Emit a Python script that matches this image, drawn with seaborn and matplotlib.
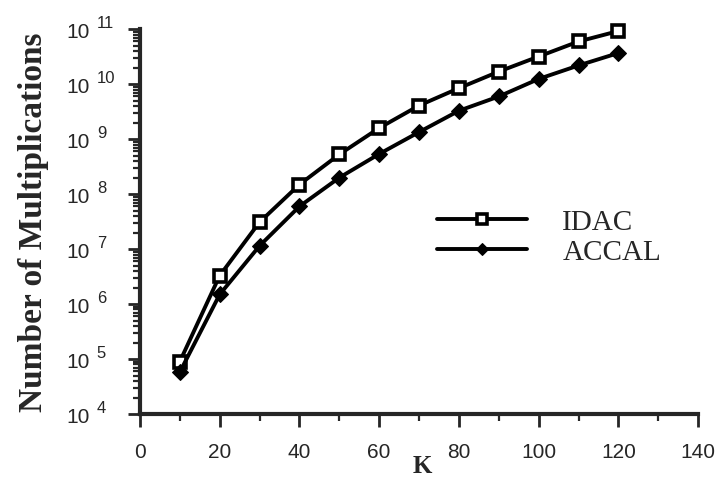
import numpy as np
import pandas as pd
import seaborn as sns
import matplotlib.pyplot as plt
import matplotlib.ticker as mtick

k_values = [10, 20, 30, 40, 50, 60, 70, 80, 90, 100, 110, 120]
idac = [9e4, 3.3e6, 3.1e7, 1.5e8, 5.3e8, 1.6e9, 4.1e9, 8.5e9, 1.7e10, 3.2e10, 6e10, 9.3e10]
accal = [5.8e4, 1.5e6, 1.15e7, 6e7, 2e8, 5.4e8, 1.35e9, 3.3e9, 6e9, 1.25e10, 2.2e10, 3.7e10]
x_ticks = [0, 20, 40, 60, 80, 100, 120, 140]
y_exponents = [4, 5, 6, 7, 8, 9, 10, 11]

sns.set_style("ticks")
plt.rcParams["font.family"] = ["Liberation Sans", "DejaVu Sans"]

df = pd.DataFrame({"K": k_values, "IDAC": idac, "ACCAL": accal})

fig = plt.figure(figsize=(7.25, 4.81), dpi=100)
ax = fig.add_axes([0.193, 0.137, 0.77, 0.80])

sns.lineplot(data=df, x="K", y="IDAC", ax=ax, color="black", linewidth=2.8,
             marker="s", markersize=9, markerfacecolor="white",
             markeredgecolor="black", markeredgewidth=2.6, label="IDAC", clip_on=False)
sns.lineplot(data=df, x="K", y="ACCAL", ax=ax, color="black", linewidth=2.8,
             marker="D", markersize=8, markerfacecolor="black",
             markeredgecolor="black", label="ACCAL", clip_on=False)

ax.set_yscale("log")
ax.set_ylim(1e4, 1e11)
ax.set_xlim(0, 140)

ax.set_xticks(x_ticks)
ax.xaxis.set_minor_locator(mtick.MultipleLocator(10))
ax.set_yticks([10.0 ** e for e in y_exponents])
ax.set_yticklabels(["10"] * len(y_exponents))
ax.yaxis.set_minor_locator(mtick.LogLocator(base=10, subs=np.arange(2, 10)))
ax.yaxis.set_minor_formatter(mtick.NullFormatter())

# exponents drawn as separate text so they stay as large as the scan
for e in y_exponents:
    ax.annotate(str(e), xy=(0, 10.0 ** e), xycoords=("axes fraction", "data"),
                xytext=(-31, 5), textcoords="offset points",
                ha="left", va="center", fontsize=12)

ax.tick_params(axis="both", which="major", direction="out", length=9, width=2,
               labelsize=15)
ax.tick_params(axis="y", which="major", pad=27)
ax.tick_params(axis="x", which="major", pad=11)
ax.tick_params(axis="both", which="minor", direction="out", length=5, width=1.6)

for s in ["left", "bottom"]:
    ax.spines[s].set_linewidth(3)
sns.despine(ax=ax)

ax.set_ylabel("Number of Multiplications", family="Liberation Serif",
              fontweight="bold", fontsize=24)
ax.yaxis.set_label_coords(-0.163, 0.5)
ax.set_xlabel("K", family="Liberation Serif", fontweight="bold", fontsize=18)
ax.xaxis.set_label_coords(0.505, -0.104)

ax.legend(loc="center left", bbox_to_anchor=(0.532, 0.46), frameon=False,
          borderaxespad=0, borderpad=0,
          prop={"family": "Liberation Serif", "size": 21},
          handlelength=3.1, handletextpad=1.2, labelspacing=0.12, markerscale=0.8)

fig.savefig("out.png", dpi=100)
